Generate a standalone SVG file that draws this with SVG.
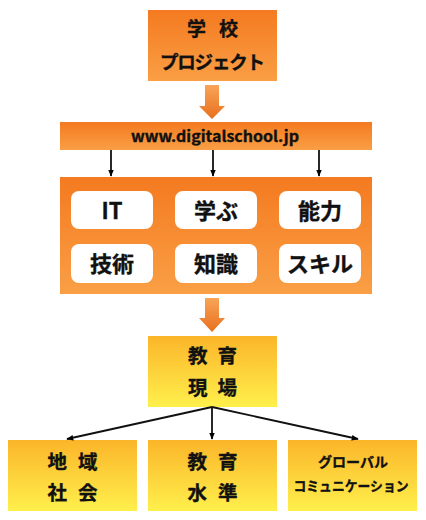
<svg xmlns="http://www.w3.org/2000/svg" width="426" height="520" viewBox="0 0 426 520">
<defs>
<linearGradient id="gOr" x1="0" y1="0" x2="0" y2="1">
<stop offset="0" stop-color="#f47a20"/>
<stop offset="1" stop-color="#fa9f45"/>
</linearGradient>
<linearGradient id="gYe" x1="0" y1="0" x2="0" y2="1">
<stop offset="0" stop-color="#fbb529"/>
<stop offset="1" stop-color="#fff04c"/>
</linearGradient>
<linearGradient id="gAr" x1="0" y1="0" x2="0" y2="1">
<stop offset="0" stop-color="#f8a459"/>
<stop offset="1" stop-color="#e8701d"/>
</linearGradient>
<marker id="ah" viewBox="0 0 10 10" refX="9" refY="5" markerWidth="7" markerHeight="7" orient="auto" markerUnits="userSpaceOnUse">
<path d="M0,1 L10,5 L0,9 Z" fill="#000"/>
</marker>
</defs>
<style>
text{font-family:"Noto Sans CJK JP","Noto Sans",sans-serif;font-weight:bold;fill:#111;stroke:#111;stroke-width:0.35;text-anchor:middle}
.w{fill:#fff}
.c{stroke:#111;stroke-width:1.8;fill:none;marker-end:url(#ah)}
</style>

<g id="school">
<rect x="148" y="10" width="129" height="71" fill="url(#gOr)"/>
<text x="212.5" y="35.5" font-size="19" textLength="51" lengthAdjust="spacing">学 校</text>
<text x="212.5" y="69" font-size="18.5" textLength="105" lengthAdjust="spacing">プロジェクト</text>
</g>

<g id="arrow1">
<path d="M205,85 H219 V106 H225 L212,119 L199,106 H205 Z" fill="url(#gAr)"/>
</g>

<g id="url">
<rect x="60" y="122" width="312" height="28" fill="url(#gOr)"/>
<text x="215" y="142" font-size="15" font-family="'Noto Sans',sans-serif" stroke-width="0.2" textLength="168" lengthAdjust="spacingAndGlyphs">www.digitalschool.jp</text>
</g>

<g id="skills">
<rect x="60" y="177" width="312" height="117" fill="url(#gOr)"/>
<g id="it"><rect class="w" x="71" y="191" width="82" height="38" rx="8"/><text x="112" y="219" font-size="22">IT</text></g>
<g id="manabu"><rect class="w" x="175" y="191" width="82" height="38" rx="8"/><text x="216" y="218.5" font-size="22">学ぶ</text></g>
<g id="noryoku"><rect class="w" x="279" y="191" width="82" height="38" rx="8"/><text x="320" y="218.5" font-size="22">能力</text></g>
<g id="gijutsu"><rect class="w" x="71" y="244" width="82" height="39" rx="8"/><text x="112" y="272" font-size="22">技術</text></g>
<g id="chishiki"><rect class="w" x="175" y="244" width="82" height="39" rx="8"/><text x="216" y="272" font-size="22">知識</text></g>
<g id="skill"><rect class="w" x="279" y="244" width="82" height="39" rx="8"/><text x="320" y="272" font-size="22">スキル</text></g>
</g>

<g id="arrow2">
<path d="M205,298 H219 V318 H225 L212,332 L199,318 H205 Z" fill="url(#gAr)"/>
</g>

<g id="genba">
<rect x="148" y="336" width="129" height="71" fill="url(#gYe)"/>
<text x="212.5" y="362.5" font-size="19.5" textLength="49" lengthAdjust="spacing">教 育</text>
<text x="212.5" y="394.5" font-size="19.5" textLength="49" lengthAdjust="spacing">現 場</text>
</g>

<g id="chiiki">
<rect x="8" y="440" width="129" height="71" fill="url(#gYe)"/>
<text x="72.5" y="468.5" font-size="19.5" textLength="50" lengthAdjust="spacing">地 域</text>
<text x="72.5" y="500" font-size="19.5" textLength="50" lengthAdjust="spacing">社 会</text>
</g>

<g id="suijun">
<rect x="148" y="440" width="129" height="71" fill="url(#gYe)"/>
<text x="212.5" y="468.5" font-size="19.5" textLength="50" lengthAdjust="spacing">教 育</text>
<text x="212.5" y="500" font-size="19.5" textLength="50" lengthAdjust="spacing">水 準</text>
</g>

<g id="global">
<rect x="288" y="440" width="129" height="71" fill="url(#gYe)"/>
<text x="353" y="466.5" font-size="14" textLength="70" lengthAdjust="spacingAndGlyphs">グローバル</text>
<text x="351" y="490.5" font-size="13.5" textLength="115" lengthAdjust="spacingAndGlyphs">コミュニケーション</text>
</g>

<g id="connectors">
<line class="c" x1="111" y1="150" x2="111" y2="176"/>
<line class="c" x1="213" y1="150" x2="213" y2="176"/>
<line class="c" x1="319" y1="150" x2="319" y2="176"/>
<line class="c" x1="212" y1="407" x2="67" y2="439"/>
<line class="c" x1="212" y1="407" x2="212" y2="439"/>
<line class="c" x1="212" y1="407" x2="358" y2="439"/>
</g>
</svg>
